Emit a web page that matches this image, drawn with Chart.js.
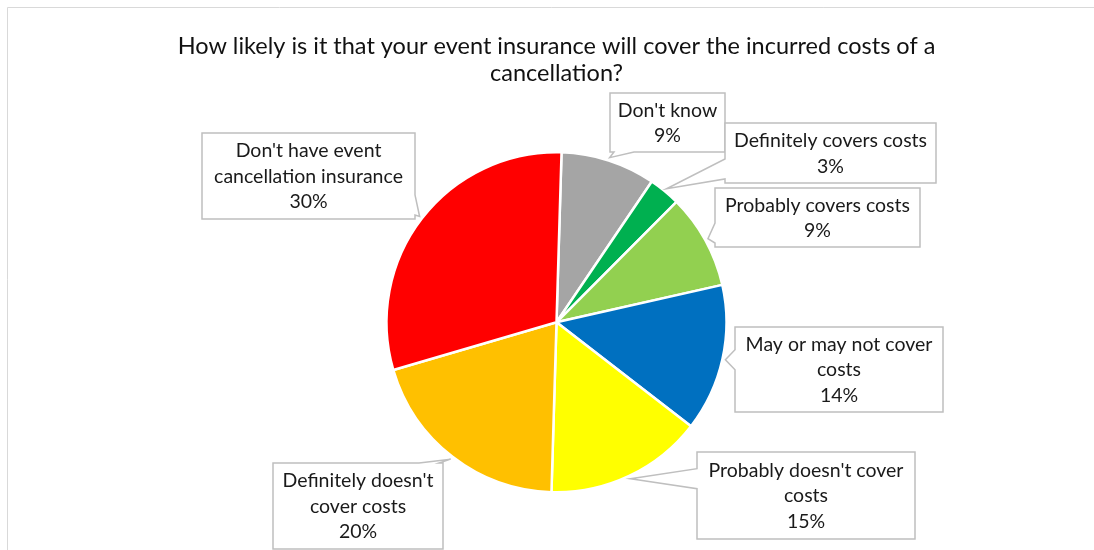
<!DOCTYPE html>
<html><head><meta charset="utf-8">
<script src="https://cdn.jsdelivr.net/npm/chart.js@4.4.0/dist/chart.umd.min.js"></script>
<style>html,body{margin:0;padding:0;background:#fff}#wrap{width:1094px;height:550px;position:relative}</style>
</head><body><div id="wrap"><canvas id="c" width="1094" height="550"></canvas></div>
<script>
const titleLines = ["How likely is it that your event insurance will cover the incurred costs of a", "cancellation?"];
const categories = ["Don't know", "Definitely covers costs", "Probably covers costs", "May or may not cover costs", "Probably doesn't cover costs", "Definitely doesn't cover costs", "Don't have event cancellation insurance"];
const values = [9, 3, 9, 14, 15, 20, 30];
const labelLines = [["Don't know"], ["Definitely covers costs"], ["Probably covers costs"], ["May or may not cover", "costs"], ["Probably doesn't cover", "costs"], ["Definitely doesn't", "cover costs"], ["Don't have event", "cancellation insurance"]];
const colors = ["#A5A5A5", "#00B050", "#92D050", "#0070C0", "#FFFF00", "#FFC000", "#FF0000"];
// callout box layout [x0, y0, x1, y1, pointer side]
const boxes = [
  [610, 93, 725, 152, 'bottom'],
  [725, 123, 936, 183, 'left'],
  [715, 188, 920, 247, 'left'],
  [735, 327, 943, 412, 'left'],
  [697, 452, 915, 539, 'left'],
  [273, 463, 443, 549, 'top'],
  [202, 133, 415, 219, 'right']
];
const FONT = 'Lato, "Open Sans", sans-serif';

function clamp(v, a, b) { return Math.max(a, Math.min(b, v)); }
function calloutPath(ctx, b, tx, ty) {
  const [x0, y0, x1, y1, side] = b;
  const hw = 10, mg = 4;
  ctx.beginPath();
  ctx.moveTo(x0, y0);
  if (side === 'top') { const c = clamp(tx, x0 + hw + mg, x1 - hw - mg); ctx.lineTo(c - hw, y0); ctx.lineTo(tx, ty); ctx.lineTo(c + hw, y0); }
  ctx.lineTo(x1, y0);
  if (side === 'right') { const c = clamp(ty, y0 + hw + mg, y1 - hw - mg); ctx.lineTo(x1, c - hw); ctx.lineTo(tx, ty); ctx.lineTo(x1, c + hw); }
  ctx.lineTo(x1, y1);
  if (side === 'bottom') { const c = clamp(tx, x0 + hw + mg, x1 - hw - mg); ctx.lineTo(c + hw, y1); ctx.lineTo(tx, ty); ctx.lineTo(c - hw, y1); }
  ctx.lineTo(x0, y1);
  if (side === 'left') { const c = clamp(ty, y0 + hw + mg, y1 - hw - mg); ctx.lineTo(x0, c + hw); ctx.lineTo(tx, ty); ctx.lineTo(x0, c - hw); }
  ctx.closePath();
}

const framePlugin = {
  id: 'frame',
  beforeDraw(chart) {
    const ctx = chart.ctx;
    ctx.save();
    ctx.fillStyle = '#fff';
    ctx.fillRect(0, 0, chart.width, chart.height);
    ctx.strokeStyle = '#D9D9D9';
    ctx.lineWidth = 1;
    ctx.beginPath();
    ctx.moveTo(7.5, chart.height + 2);
    ctx.lineTo(7.5, 7.5);
    ctx.lineTo(chart.width + 2, 7.5);
    ctx.stroke();
    ctx.restore();
  }
};

const calloutPlugin = {
  id: 'callouts',
  afterDatasetsDraw(chart) {
    const ctx = chart.ctx;
    const meta = chart.getDatasetMeta(0);
    const total = values.reduce((a, b) => a + b, 0);
    ctx.save();
    meta.data.forEach((arc, i) => {
      const p = arc.getProps(['x', 'y', 'startAngle', 'endAngle', 'outerRadius'], true);
      const mid = (p.startAngle + p.endAngle) / 2;
      const r = p.outerRadius + 3;
      const tx = p.x + Math.cos(mid) * r, ty = p.y + Math.sin(mid) * r;
      const b = boxes[i];
      calloutPath(ctx, b, tx, ty);
      ctx.fillStyle = '#fff';
      ctx.fill();
      ctx.strokeStyle = '#BFBFBF';
      ctx.lineWidth = 1.5;
      ctx.stroke();
      const lines = labelLines[i].concat([Math.round(values[i] / total * 100) + '%']);
      const lh = 25.5;
      const cx = (b[0] + b[2]) / 2, cy = (b[1] + b[3]) / 2 + 0.5;
      ctx.fillStyle = '#1a1a1a';
      ctx.font = '19.5px ' + FONT;
      ctx.textAlign = 'center';
      ctx.textBaseline = 'middle';
      lines.forEach((t, k) => {
        ctx.fillText(t, cx, cy + (k - (lines.length - 1) / 2) * lh);
      });
    });
    ctx.restore();
  }
};

new Chart(document.getElementById('c'), {
  type: 'pie',
  data: {
    labels: categories,
    datasets: [{
      data: values,
      backgroundColor: colors,
      borderColor: '#ffffff',
      borderWidth: 2.5,
      radius: 170
    }]
  },
  options: {
    responsive: false,
    animation: false,
    events: [],
    rotation: 1.7,
    layout: { padding: { left: 19, right: 0, top: 0, bottom: 58 } },
    plugins: {
      legend: { display: false },
      tooltip: { enabled: false },
      title: {
        display: true,
        text: titleLines,
        color: '#111',
        font: { family: FONT, size: 23.5, weight: 'normal', lineHeight: 1.15 },
        padding: { top: 32.5, bottom: 66 }
      }
    }
  },
  plugins: [framePlugin, calloutPlugin]
});
</script>
</body></html>
